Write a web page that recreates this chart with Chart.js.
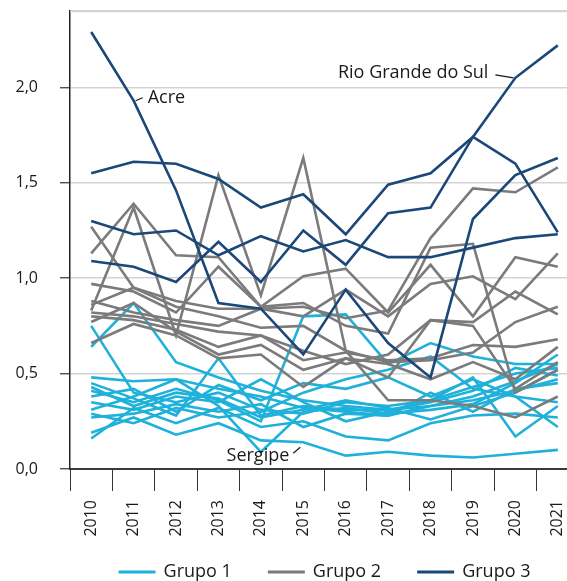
<!DOCTYPE html>
<html>
<head>
<meta charset="utf-8">
<script src="https://cdn.jsdelivr.net/npm/chart.js@4/dist/chart.umd.min.js"></script>
<style>
  html, body { margin: 0; padding: 0; background: #fff; overflow: hidden; }
  #wrap { width: 580px; height: 581px; position: relative; }
</style>
</head>
<body>
<div id="wrap"><canvas id="c"></canvas></div>
<script>
const years = ['2010','2011','2012','2013','2014','2015','2016','2017','2018','2019','2020','2021'];
const yTickValues = [0, 0.5, 1, 1.5, 2];
const yTickLabels = ['0,0', '0,5', '1,0', '1,5', '2,0'];
const groupNames = ['Grupo 1', 'Grupo 2', 'Grupo 3'];

// Grupo 3
const acre          = [2.29,1.93,1.46,0.87,0.84,0.60,0.94,0.66,0.48,1.31,1.54,1.63];
const rioGrandeSul  = [1.09,1.06,0.98,1.19,0.98,1.25,1.07,1.34,1.37,1.74,2.05,2.22];
const g3a           = [1.55,1.61,1.60,1.52,1.37,1.44,1.23,1.49,1.55,1.74,1.60,1.24];
const g3b           = [1.30,1.23,1.25,1.12,1.22,1.14,1.20,1.11,1.11,1.16,1.21,1.23];

// Grupo 2
const g2a = [1.27,0.95,0.88,0.84,0.84,0.85,0.79,0.83,1.21,1.47,1.45,1.58];
const g2b = [1.13,1.39,1.12,1.11,0.85,0.87,0.75,0.71,1.16,1.18,0.40,0.52];
const g2c = [0.83,1.37,0.70,1.54,0.91,1.63,0.62,0.36,0.36,0.33,0.27,0.38];
const g2d = [0.97,0.93,0.82,1.06,0.85,1.01,1.05,0.82,1.07,0.80,1.11,1.06];
const g2e = [0.88,0.82,0.78,0.75,0.84,0.80,0.94,0.80,0.97,1.01,0.89,1.13];
const g2f = [0.86,0.95,0.85,0.80,0.74,0.75,0.62,0.56,0.57,0.61,0.77,0.85];
const g2g = [0.80,0.78,0.73,0.64,0.70,0.57,0.61,0.57,0.58,0.65,0.64,0.68];
const g2h = [0.77,0.87,0.72,0.60,0.65,0.52,0.58,0.55,0.47,0.56,0.47,0.64];
const g2i = [0.66,0.76,0.70,0.58,0.60,0.43,0.58,0.48,0.78,0.75,0.42,0.56];
const g2j = [0.82,0.80,0.76,0.72,0.70,0.62,0.55,0.60,0.78,0.77,0.93,0.81];

// Grupo 1
const g1a = [0.64,0.87,0.56,0.48,0.41,0.36,0.33,0.31,0.33,0.38,0.46,0.55];
const g1b = [0.75,0.40,0.35,0.40,0.31,0.29,0.35,0.33,0.36,0.43,0.50,0.53];
const g1c = [0.48,0.46,0.47,0.42,0.38,0.32,0.30,0.28,0.33,0.36,0.41,0.47];
const g1d = [0.45,0.37,0.28,0.58,0.28,0.33,0.31,0.31,0.35,0.41,0.53,0.49];
const g1e = [0.41,0.35,0.42,0.36,0.25,0.80,0.81,0.55,0.66,0.59,0.55,0.55];
const g1f = [0.38,0.42,0.30,0.44,0.36,0.45,0.42,0.48,0.38,0.47,0.38,0.35];
const g1g = [0.35,0.31,0.38,0.35,0.47,0.35,0.25,0.30,0.36,0.48,0.17,0.33];
const g1h = [0.31,0.38,0.47,0.33,0.09,0.30,0.32,0.29,0.31,0.34,0.45,0.60];
const g1i = [0.27,0.29,0.34,0.30,0.34,0.22,0.29,0.28,0.40,0.30,0.42,0.45];
const sergipe = [0.19,0.27,0.18,0.24,0.15,0.14,0.07,0.09,0.07,0.06,0.08,0.10];
const g1k = [0.16,0.32,0.24,0.32,0.22,0.25,0.17,0.15,0.24,0.28,0.29,0.27];
const g1l = [0.29,0.24,0.32,0.27,0.30,0.40,0.47,0.52,0.59,0.42,0.38,0.22];
const g1m = [0.43,0.33,0.40,0.37,0.27,0.31,0.36,0.32,0.26,0.33,0.40,0.52];

const colors = ['#1fb1d9', '#7b7b7b', '#1b4779'];
const FONT = '"Open Sans", "Noto Sans", sans-serif';
const GRID = '#d4d4d4';

const group3 = [['Acre', acre], ['Rio Grande do Sul', rioGrandeSul], ['G3a', g3a], ['G3b', g3b]];
const group2 = [g2a,g2b,g2c,g2d,g2e,g2f,g2g,g2h,g2i,g2j].map((d,i)=>['G2'+i, d]);
const group1 = [['G1a',g1a],['G1b',g1b],['G1c',g1c],['G1d',g1d],['G1e',g1e],['G1f',g1f],['G1g',g1g],
                ['G1h',g1h],['G1i',g1i],['Sergipe',sergipe],['G1k',g1k],['G1l',g1l],['G1m',g1m]];

function mk(list, g) {
  return list.map(([name, data]) => ({
    label: name, data: data,
    borderColor: colors[g], backgroundColor: colors[g],
    borderWidth: 2.6, pointRadius: 0, tension: 0, fill: false
  }));
}
const datasets = [...mk(group3, 2), ...mk(group2, 1), ...mk(group1, 0)];

const annotations = [
  { label: 'Acre', series: 'Acre', index: 1, side: 'right' },
  { label: 'Rio Grande do Sul', series: 'Rio Grande do Sul', index: 10, side: 'left' },
  { label: 'Sergipe', series: 'Sergipe', index: 5, side: 'below' }
];

// top frame line of the plot area
const topLinePlugin = {
  id: 'topLine',
  beforeDatasetsDraw(chart) {
    const ctx = chart.ctx, ca = chart.chartArea;
    ctx.save();
    ctx.strokeStyle = GRID; ctx.lineWidth = 1.5;
    ctx.beginPath(); ctx.moveTo(ca.left, ca.top + 0.5); ctx.lineTo(ca.right, ca.top + 0.5); ctx.stroke();
    ctx.restore();
  }
};

const annotPlugin = {
  id: 'annot',
  afterDatasetsDraw(chart) {
    const ctx = chart.ctx, xs = chart.scales.x, ys = chart.scales.y;
    ctx.save();
    ctx.font = '18px ' + FONT;
    ctx.fillStyle = '#1a1a1a';
    ctx.strokeStyle = '#1a1a1a';
    ctx.lineWidth = 1.2;
    ctx.textBaseline = 'middle';
    annotations.forEach(a => {
      const ds = chart.data.datasets.find(d => d.label === a.series);
      const px = xs.getPixelForValue(a.index);
      const py = ys.getPixelForValue(ds.data[a.index]);
      ctx.beginPath();
      if (a.side === 'right') {
        ctx.moveTo(px + 2, py); ctx.lineTo(px + 9, py - 3); ctx.stroke();
        ctx.textAlign = 'left'; ctx.fillText(a.label, px + 14, py - 3);
      } else if (a.side === 'left') {
        ctx.moveTo(px - 2, py); ctx.lineTo(px - 20, py - 3); ctx.stroke();
        ctx.textAlign = 'right'; ctx.fillText(a.label, px - 27, py - 5);
      } else {
        ctx.moveTo(px - 3, py + 5); ctx.lineTo(px - 10, py + 11); ctx.stroke();
        ctx.textAlign = 'right'; ctx.fillText(a.label, px - 14, py + 14);
      }
    });
    ctx.restore();
  }
};

// legend drawn centred under the plot area
const legendPlugin = {
  id: 'groupLegend',
  afterDraw(chart) {
    const ctx = chart.ctx, ca = chart.chartArea;
    ctx.save();
    ctx.font = '18px ' + FONT;
    ctx.textBaseline = 'middle';
    ctx.textAlign = 'left';
    const boxW = 37, gapText = 8, gapItem = 36;
    const widths = groupNames.map(n => boxW + gapText + ctx.measureText(n).width);
    const total = widths.reduce((a, b) => a + b, 0) + gapItem * (groupNames.length - 1);
    let x = (ca.left + ca.right) / 2 - total / 2;
    const y = chart.height - 9;
    groupNames.forEach((n, i) => {
      ctx.fillStyle = colors[i];
      ctx.fillRect(x, y - 1.5, boxW, 3);
      ctx.fillStyle = '#1a1a1a';
      ctx.fillText(n, x + boxW + gapText, y);
      x += widths[i] + gapItem;
    });
    ctx.restore();
  }
};

new Chart(document.getElementById('c'), {
  type: 'line',
  data: { labels: years, datasets: datasets },
  plugins: [topLinePlugin, annotPlugin, legendPlugin],
  options: {
    responsive: true, maintainAspectRatio: false, animation: false,
    layout: { padding: { top: 11, right: 1, left: 0, bottom: 30 } },
    plugins: {
      tooltip: { enabled: false },
      legend: { display: false }
    },
    scales: {
      x: {
        offset: true,
        grid: { offset: true, drawOnChartArea: false, drawTicks: true, tickLength: 22, color: '#333', lineWidth: 1 },
        border: { display: true, color: '#3a3a3a', width: 2 },
        ticks: { maxRotation: 90, minRotation: 90, padding: 9, color: '#1a1a1a', autoSkip: false,
                 font: { size: 16, family: FONT } },
        afterFit(s) { s.height = 82; s.paddingLeft = 0; s.paddingRight = 0; }
      },
      y: {
        min: 0, max: 2.4,
        afterBuildTicks(s) { s.ticks = [...yTickValues, 2.4].map(v => ({ value: v })); },
        afterFit(s) { s.width = 70; s.paddingTop = 0; s.paddingBottom = 0; },
        grid: {
          color: GRID, lineWidth: 1.5, tickLength: 10,
          tickColor: (c) => (c.tick && yTickValues.includes(c.tick.value)) ? '#333' : 'rgba(0,0,0,0)',
          tickWidth: 1.2
        },
        border: { display: true, color: '#222', width: 1.5 },
        ticks: {
          padding: 22, color: '#1a1a1a', autoSkip: false,
          font: { size: 16, family: FONT },
          callback: (v) => { const i = yTickValues.indexOf(v); return i >= 0 ? yTickLabels[i] : ''; }
        }
      }
    }
  }
});
</script>
</body>
</html>
